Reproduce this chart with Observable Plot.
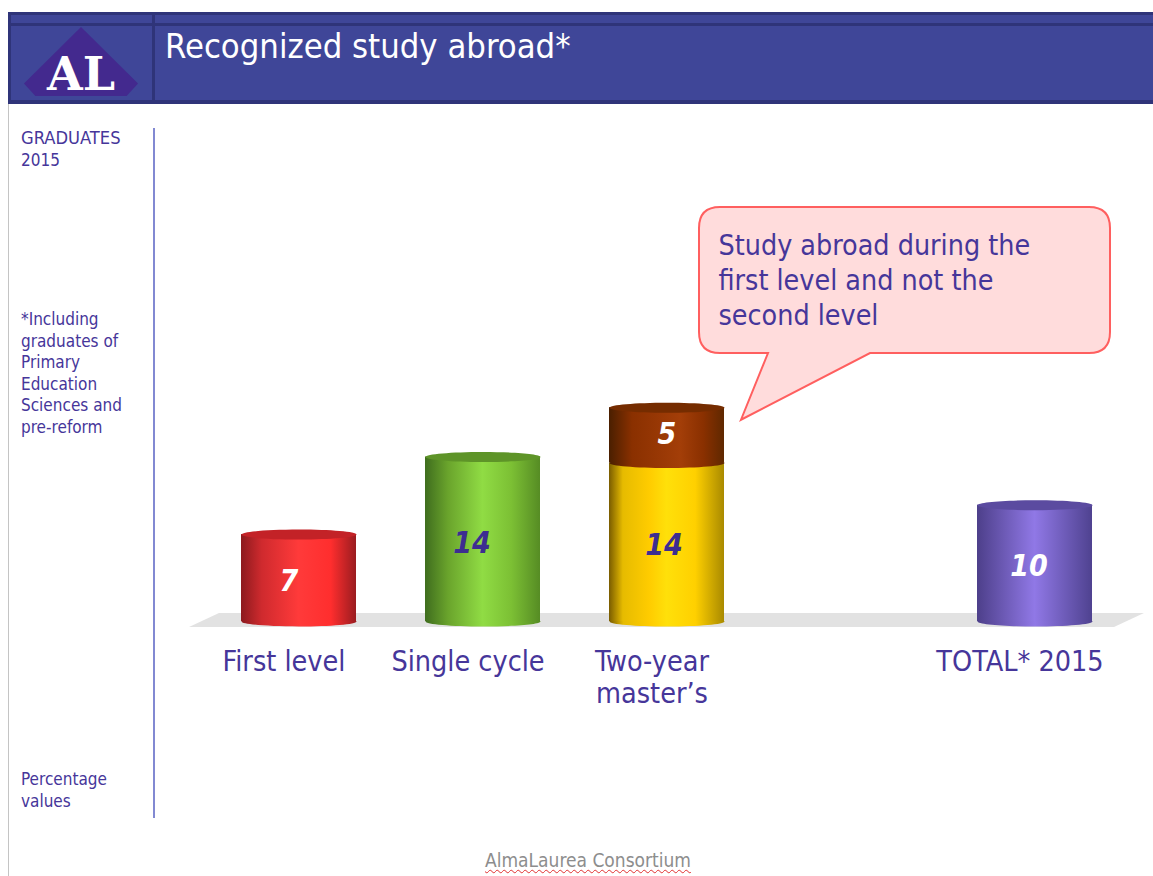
<!DOCTYPE html>
<html>
<head>
<meta charset="utf-8">
<script src="https://cdn.jsdelivr.net/npm/d3@7"></script>
<script src="https://cdn.jsdelivr.net/npm/@observablehq/plot@0.6"></script>
<style>
  html, body { margin: 0; padding: 0; background: #fff; }
  #page { position: relative; width: 1153px; height: 876px; overflow: hidden;
    font-family: "DejaVu Sans", sans-serif; font-stretch: condensed; color: #46369a; }
  #page div { position: absolute; }
  #chart { position: absolute; left: 0; top: 104px; }
  #chart svg { display: block; }
  .bar { background: #2f3479; }
  .side { font-size: 17px; line-height: 21.5px; left: 21px; white-space: pre; }
</style>
</head>
<body>
<div id="page">
  <div style="left:8px;top:12px;width:1145px;height:92px;background:#3f4698"></div>
  <div class="bar" style="left:8px;top:12px;width:1145px;height:3px"></div>
  <div class="bar" style="left:8px;top:23px;width:1145px;height:3px"></div>
  <div class="bar" style="left:8px;top:100px;width:1145px;height:4px"></div>
  <div class="bar" style="left:8px;top:12px;width:3px;height:92px"></div>
  <div class="bar" style="left:152px;top:12px;width:3px;height:92px"></div>
  <div style="left:24px;top:27px;width:114px;height:69px;background:#43298e;clip-path:polygon(50% 0,100% 82%,90% 100%,10% 100%,0 82%)"></div>
  <div style="left:41px;top:47px;width:80px;text-align:center;font:bold 46px/54px 'DejaVu Serif',serif;color:#fff">AL</div>
  <div id="title" style="left:165px;top:25px;font-size:34.3px;line-height:42px;color:#fff;white-space:pre">Recognized study abroad*</div>
  <div style="left:8px;top:104px;width:1px;height:772px;background:#c4c4c4"></div>
  <div style="left:153px;top:128px;width:2px;height:690px;background:#8289d2"></div>
  <div class="side" style="top:127px"><span style="font-size:18.2px">GRADUATES</span>
2015</div>
  <div class="side" style="top:309px">*Including
graduates of
Primary
Education
Sciences and
pre-reform</div>
  <div class="side" style="top:769px">Percentage
values</div>
  <div id="chart"></div>
  <div style="left:485px;top:849px;font-size:19px;line-height:22px;color:#8d8d8d;white-space:pre;text-decoration:underline wavy #e03030 1px;text-underline-offset:2px">AlmaLaurea Consortium</div>
</div>
<script>
// Data
const categories = ["First level", "Single cycle", "Two-year\nmaster’s", "", "TOTAL* 2015"];
const barCategory = ["First level", "Single cycle", "Two-year\nmaster’s", "Two-year\nmaster’s", "TOTAL* 2015"];
const barSeries = ["first", "single", "twoYear", "twoYearAbroad", "total"];
const barValues = [7.4, 14, 13.5, 4.7, 9.9];
const barLabels = ["7", "14", "14", "5", "10"];
const calloutText = "Study abroad during the\nfirst level and not the\nsecond level";

const rows = barValues.map((value, i) => ({
  category: barCategory[i], series: barSeries[i], value, label: barLabels[i]
}));

const bodyStops = {
  first: [[0, "#8c1a1e"], [.18, "#cf2a2e"], [.5, "#ff3a3a"], [.78, "#ff2e2e"], [1, "#9a1c20"]],
  single: [[0, "#3f6d1e"], [.2, "#6aa42c"], [.5, "#90dc44"], [.75, "#7cc034"], [1, "#568c24"]],
  twoYear: [[0, "#7a5c00"], [.12, "#e6bb00"], [.35, "#ffcc00"], [.5, "#ffe00a"], [.75, "#ffd000"], [1, "#a98a00"]],
  twoYearAbroad: [[0, "#4a1f00"], [.2, "#8a3000"], [.62, "#a33e08"], [.82, "#8a3000"], [1, "#5f2800"]],
  total: [[0, "#4d3f8a"], [.5, "#9078e6"], [1, "#4f4290"]]
};
const capColor = { first: "#c32227", single: "#5e9428", twoYearAbroad: "#752c00", total: "#5b4ba0" };
const gradient = d => `url(#g-${d.series})`;

const ellipse = (rx, ry) => ({
  draw(c) {
    const k = 0.5523;
    c.moveTo(-rx, 0);
    c.bezierCurveTo(-rx, -ry * k, -rx * k, -ry, 0, -ry);
    c.bezierCurveTo(rx * k, -ry, rx, -ry * k, rx, 0);
    c.bezierCurveTo(rx, ry * k, rx * k, ry, 0, ry);
    c.bezierCurveTo(-rx * k, ry, -rx, ry * k, -rx, 0);
    c.closePath();
  }
});
const cap = ellipse(57.5, 5);
const stacked = { x: "category", y: "value" };

function defsAndFloor(index, { x, y }) {
  const g = d3.create("svg:g");
  const defs = g.append("defs");
  for (const [id, stops] of Object.entries(bodyStops)) {
    const lg = defs.append("linearGradient").attr("id", "g-" + id);
    for (const [o, c] of stops) lg.append("stop").attr("offset", o).attr("stop-color", c);
  }
  const y0 = y(0), left = x(categories[0]), right = x(categories[4]) + x.bandwidth();
  g.append("path")
    .attr("fill", "#e2e2e2")
    .attr("d", `M${left - 52},${y0 + 6}L${left - 22},${y0 - 8}L${right + 52},${y0 - 8}L${right + 22},${y0 + 6}Z`);
  return g.node();
}

function calloutShape(index, { x, y }) {
  const l = 699, r = 1110, t = 103, b = 249, q = 21;
  const tipX = x(categories[2]) + x.bandwidth() + 17, tipY = y(19) + 22;
  return d3.create("svg:path")
    .attr("fill", "#ffdcdc").attr("stroke", "#ff5f5f").attr("stroke-width", 2)
    .attr("d", `M${l + q},${t}H${r - q}Q${r},${t} ${r},${t + q}V${b - q}Q${r},${b} ${r - q},${b}H870L${tipX},${tipY}L768,${b}H${l + q}Q${l},${b} ${l},${b - q}V${t + q}Q${l},${t} ${l + q},${t}Z`)
    .node();
}

// Stack offsets come from all rows, so every row stays in the mark and only one shows its label
const labelFor = (series, fill, dx, dy) => Plot.text(rows, Plot.stackY({
  ...stacked, text: d => d.series === series ? d.label : null, fill, dx, dy,
  fontSize: 30, fontWeight: "bold", fontStyle: "italic"
}));

const chart = Plot.plot({
  width: 1153, height: 740,
  marginLeft: 206, marginRight: 27, marginTop: 0, marginBottom: 223,
  style: { fontFamily: "'DejaVu Sans', sans-serif", fontStretch: "condensed", color: "#46369a", background: "transparent" },
  x: { domain: categories, paddingInner: 0.375, paddingOuter: 0.1875, label: null },
  y: { domain: [0, 44], axis: null },
  marks: [
    defsAndFloor,
    Plot.dot(rows.filter(d => d.series !== "twoYearAbroad"), { x: "category", y: () => 0, symbol: cap, fill: { value: gradient, scale: null }, stroke: null }),
    Plot.barY(rows, { ...stacked, fill: { value: gradient, scale: null } }),
    Plot.dot(rows, Plot.stackY1({ ...stacked, symbol: cap, fill: { value: d => d.series === "twoYearAbroad" ? gradient(d) : "none", scale: null }, stroke: null })),
    Plot.dot(rows, Plot.stackY2({ ...stacked, symbol: cap, fill: { value: d => d.series === "twoYear" ? "none" : capColor[d.series], scale: null }, stroke: null })),
    labelFor("first", "white", -10, 3),
    labelFor("single", "#3d2d91", -11, 4),
    labelFor("twoYear", "#3d2d91", -3, 3),
    labelFor("twoYearAbroad", "white", 0, -1),
    labelFor("total", "white", -6, 3),
    Plot.axisX({
      ticks: categories.filter(c => c), tickSize: 0, tickPadding: 27, fontSize: 28.5, lineHeight: 1.12,
      label: null, dx: -15, lineAnchor: "top", fill: "#46369a"
    }),
    calloutShape,
    Plot.text([calloutText], {
      frameAnchor: "top-left", textAnchor: "start", lineAnchor: "top",
      dx: 512, dy: 125, fontSize: 28.4, lineHeight: 1.24, fill: "#46369a"
    })
  ]
});
document.getElementById("chart").append(chart);
</script>
</body>
</html>
